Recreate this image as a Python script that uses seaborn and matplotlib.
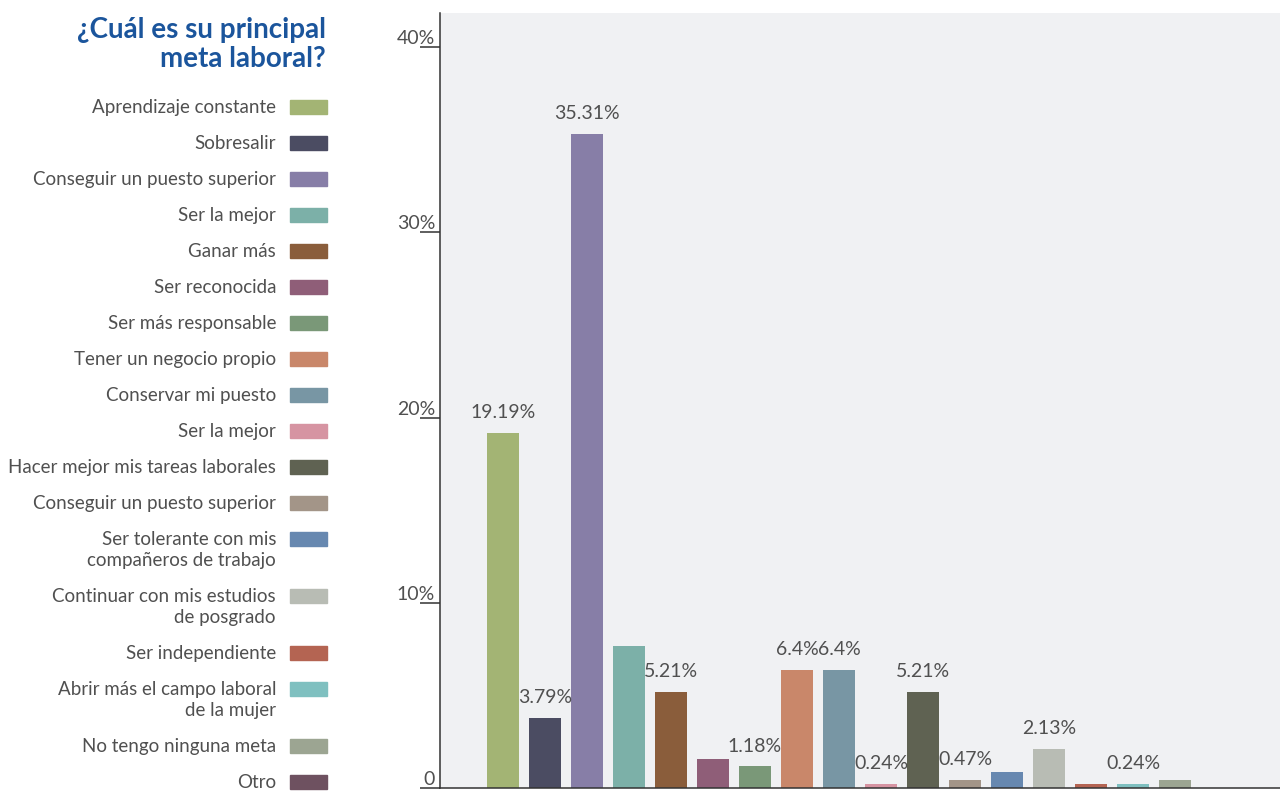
import matplotlib.pyplot as plt
import seaborn as sns
import pandas as pd
from matplotlib.patches import Rectangle

plt.switch_backend('Agg')

# Datos
metas = ['Aprendizaje constante', 'Sobresalir', 'Conseguir un puesto superior',
         'Ser la mejor', 'Ganar más', 'Ser reconocida', 'Ser más responsable',
         'Tener un negocio propio', 'Conservar mi puesto', 'Ser la mejor',
         'Hacer mejor mis tareas laborales', 'Conseguir un puesto superior',
         'Ser tolerante con mis\ncompañeros de trabajo',
         'Continuar con mis estudios\nde posgrado', 'Ser independiente',
         'Abrir más el campo laboral\nde la mujer', 'No tengo ninguna meta', 'Otro']
porcentajes = [19.19, 3.79, 35.31, 7.7, 5.21, 1.6, 1.18, 6.4, 6.4, 0.24,
               5.21, 0.47, 0.9, 2.13, 0.24, 0.24, 0.47, 0.0]
etiquetas = ['19.19%', '3.79%', '35.31%', '', '5.21%', '', '1.18%', '6.4%', '6.4%',
             '0.24%', '5.21%', '0.47%', '', '2.13%', '', '0.24%', '', '']
colores = ['#a3b474', '#4b4c62', '#877ea7', '#7cb0a8', '#8a5d3b', '#8f5e78',
           '#7a9878', '#c9876a', '#7896a4', '#d694a2', '#5f6252', '#a39588',
           '#6788b0', '#b8bcb4', '#b46452', '#7fc0c0', '#9ca592', '#6e5160']
yticks = [0, 10, 20, 30, 40]
ytick_labels = ['0', '10%', '20%', '30%', '40%']

sns.set_style('white')
plt.rcParams['font.family'] = ['Lato', 'DejaVu Sans']
texto = '#505050'

df = pd.DataFrame({'id': [f'm{i}' for i in range(len(metas))],
                   'valor': porcentajes})

fig = plt.figure(figsize=(12.8, 7.91), dpi=100)
ax = fig.add_axes([440 / 1280, 2.7 / 791, 840 / 1280, 775.6 / 791])
ax.set_facecolor('#f0f1f3')

sns.barplot(data=df, x='id', y='valor', hue='id', palette=colores,
            legend=False, width=0.76, saturation=1, linewidth=0, ax=ax)

for i, (v, t) in enumerate(zip(porcentajes, etiquetas)):
    if t:
        ax.annotate(t, (i, v), xytext=(0, 8.5), textcoords='offset points',
                    ha='center', va='bottom', fontsize=14, color=texto)

ax.set_xlim(-1.5, 18.5)
ax.set_ylim(0, 41.84)
ax.set_xticks([])
ax.set_xlabel('')
ax.set_ylabel('')
ax.set_yticks(yticks)
ax.set_yticklabels(ytick_labels)
ax.tick_params(axis='y', left=True, direction='out', length=14.5, width=1.1,
               color='#333333', pad=-11, labelsize=14, labelcolor=texto)
for lbl in ax.get_yticklabels():
    lbl.set_va('bottom')
for s in ['top', 'right']:
    ax.spines[s].set_visible(False)
for s in ['left', 'bottom']:
    ax.spines[s].set_color('#333333')
    ax.spines[s].set_linewidth(1.1)

# Titulo
fig.text(326 / 1280, 1 - 17 / 791, '¿Cuál es su principal\nmeta laboral?',
         ha='right', va='top', fontsize=20, fontweight='bold',
         color='#1b559c', linespacing=1.15)

# Leyenda manual
y = 107
for nombre, c in zip(metas, colores):
    lineas = nombre.split('\n')
    for k, linea in enumerate(lineas):
        fig.text(276 / 1280, 1 - (y + 6 + 21 * k) / 791, linea, ha='right',
                 va='baseline', fontsize=13.5, color=texto)
    fig.patches.append(Rectangle((290 / 1280, 1 - (y + 7) / 791), 37 / 1280, 14 / 791,
                                 transform=fig.transFigure, color=c, figure=fig))
    y += 36.0 + 21 * (len(lineas) - 1)

fig.savefig('out.png', dpi=100)
